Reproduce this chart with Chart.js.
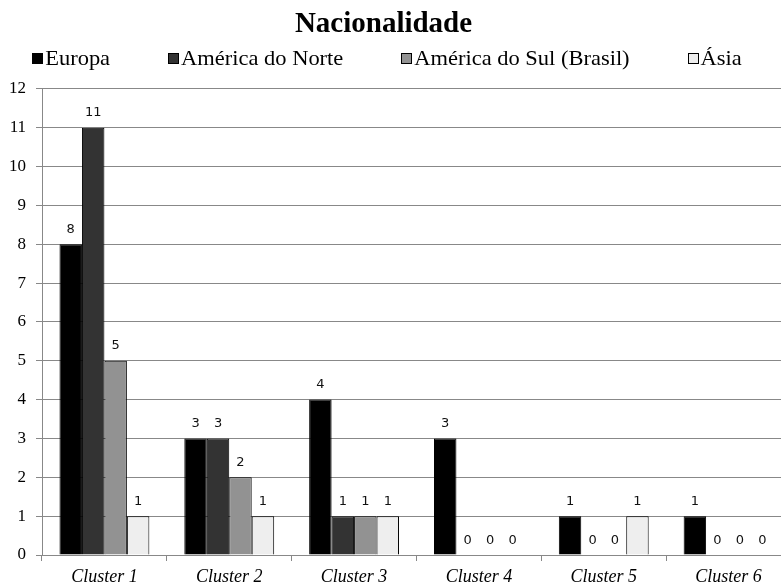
<!DOCTYPE html>
<html><head><meta charset="utf-8">
<script src="https://cdn.jsdelivr.net/npm/chart.js@4/dist/chart.umd.min.js"></script>
<style>html,body{margin:0;padding:0;background:#fff;overflow:hidden}#wrap{width:781px;height:585px;overflow:hidden;position:relative}canvas{display:block}</style>
</head><body><div id="wrap"><canvas id="c" width="791" height="585" style="width:791px;height:585px"></canvas></div>
<script>
const chartTitle = 'Nacionalidade';
const categories = ['Cluster 1', 'Cluster 2', 'Cluster 3', 'Cluster 4', 'Cluster 5', 'Cluster 6'];
const seriesNames = ['Europa', 'América do Norte', 'América do Sul (Brasil)', 'Ásia'];
const europa = [8, 3, 4, 3, 1, 1];
const americaNorte = [11, 3, 1, 0, 0, 0];
const americaSul = [5, 2, 1, 0, 0, 0];
const asia = [1, 1, 1, 0, 1, 0];
const yMin = 0, yMax = 12, yStep = 1;

const seriesColors = ['#000000', '#333333', '#929292', '#eeeeee'];
const seriesValues = [europa, americaNorte, americaSul, asia];

const serif = "'Liberation Serif', 'Times New Roman', serif";

const titleShift = {
  id: 'titleShift',
  afterLayout(chart) {
    const t = chart.titleBlock;
    if (t) { t.left -= 12; t.right -= 12; }
  }
};

const customLegend = {
  id: 'customLegend',
  afterDraw(chart) {
    const ctx = chart.ctx;
    ctx.save();
    ctx.font = '21px ' + serif;
    const sx = 1.07;
    const box = 11, gapText = 2, gapItem = 58;
    const items = chart.data.datasets.map(d => ({ text: d.label, color: d.backgroundColor, w: ctx.measureText(d.label).width * sx }));
    let total = 0;
    items.forEach((it, i) => { total += box + gapText + it.w + (i < items.length - 1 ? gapItem : 0); });
    let x = 387 - total / 2;
    const yBox = 53, yBase = 65;
    items.forEach(it => {
      const bx = Math.round(x);
      ctx.fillStyle = it.color;
      ctx.fillRect(bx, yBox, box, box);
      ctx.strokeStyle = '#000';
      ctx.lineWidth = 1;
      ctx.strokeRect(bx + 0.5, yBox + 0.5, box - 1, box - 1);
      ctx.fillStyle = '#000';
      ctx.textBaseline = 'alphabetic';
      ctx.textAlign = 'left';
      ctx.save();
      ctx.translate(x + box + gapText, yBase);
      ctx.scale(sx, 1);
      ctx.fillText(it.text, 0, 0);
      ctx.restore();
      x += box + gapText + it.w + gapItem;
    });
    ctx.restore();
  }
};

const valueLabels = {
  id: 'valueLabels',
  afterDatasetsDraw(chart) {
    const ctx = chart.ctx;
    ctx.save();
    ctx.font = "13px 'DejaVu Sans', sans-serif";
    ctx.fillStyle = '#111';
    ctx.textAlign = 'center';
    ctx.textBaseline = 'alphabetic';
    chart.data.datasets.forEach((ds, di) => {
      const meta = chart.getDatasetMeta(di);
      meta.data.forEach((el, i) => {
        ctx.fillText(String(ds.data[i]), el.x, el.y - 11.5);
      });
    });
    ctx.restore();
  }
};

new Chart(document.getElementById('c'), {
  type: 'bar',
  data: {
    labels: categories,
    datasets: seriesNames.map((name, i) => ({
      label: name,
      data: seriesValues[i],
      backgroundColor: seriesColors[i],
      borderColor: '#000',
      borderWidth: 1,
      borderSkipped: 'start',
      categoryPercentage: 0.72,
      barPercentage: 1.0
    }))
  },
  options: {
    responsive: false,
    animation: false,
    devicePixelRatio: 1,
    layout: { padding: { left: 0, right: 0, top: 0, bottom: 0 } },
    plugins: {
      legend: { display: false },
      tooltip: { enabled: false },
      title: {
        display: true,
        text: chartTitle,
        color: '#000',
        font: { family: serif, size: 29, weight: 'bold' },
        padding: { top: 7, bottom: 47 }
      }
    },
    scales: {
      x: {
        grid: { offset: true, drawOnChartArea: false, drawTicks: true, tickLength: 6, color: '#888' },
        border: { color: '#888', width: 1 },
        ticks: { color: '#000', font: { family: serif, size: 18, style: 'italic' }, padding: 5 },
        afterFit(s) { s.height = 30; }
      },
      y: {
        min: yMin, max: yMax,
        ticks: { stepSize: yStep, color: '#000', font: { family: serif, size: 17 }, padding: 10 },
        grid: { color: '#888', tickLength: 6, lineWidth: 1 },
        border: { color: '#888', width: 1 },
        afterFit(s) { s.width = 42; }
      }
    }
  },
  plugins: [titleShift, customLegend, valueLabels]
});
</script>
</body></html>
